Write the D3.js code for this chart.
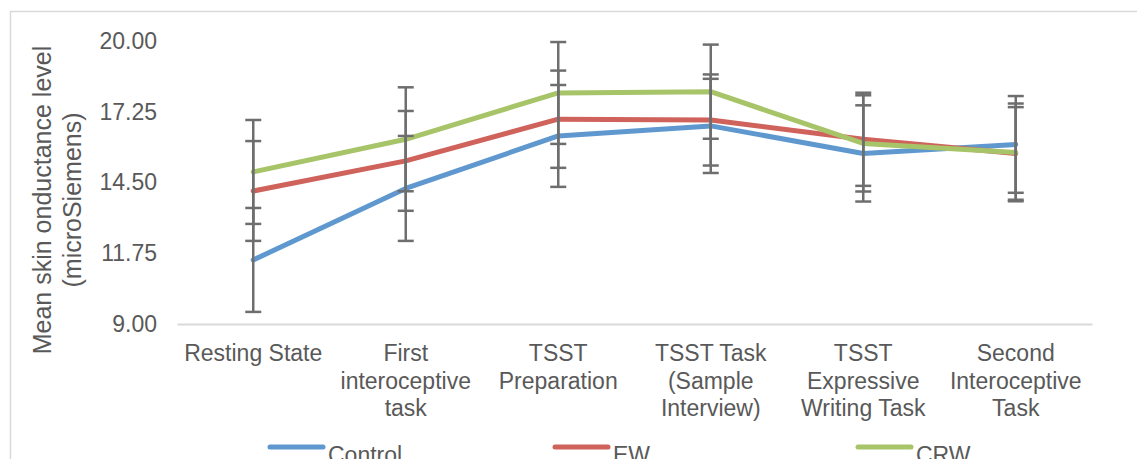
<!DOCTYPE html>
<html>
<head>
<meta charset="utf-8">
<script src="https://cdn.jsdelivr.net/npm/d3@7"></script>
<style>
  body { margin: 0; background: #fff; }
  svg { display: block; font-family: "Liberation Sans", Arial, Helvetica, sans-serif; }
</style>
</head>
<body>
<svg id="chart" width="1137" height="459"></svg>
<script>
var categories = [
    "Resting State",
    "First\ninteroceptive\ntask",
    "TSST\nPreparation",
    "TSST Task\n(Sample\nInterview)",
    "TSST\nExpressive\nWriting Task",
    "Second\nInteroceptive\nTask"
];
var seriesNames = ["Control", "EW", "CRW"];
var controlMeans = [11.49, 14.27, 16.31, 16.70, 15.63, 15.98];
var controlErrors = [2.02, 2.04, 1.98, 1.83, 1.87, 1.88];
var ewMeans = [14.17, 15.34, 16.96, 16.93, 16.18, 15.63];
var ewErrors = [1.94, 1.94, 1.89, 1.77, 1.81, 1.80];
var crwMeans = [14.91, 16.18, 17.98, 18.03, 16.02, 15.67];
var crwErrors = [2.02, 2.02, 1.98, 1.83, 1.87, 1.90];
var yTicks = [9, 11.75, 14.5, 17.25, 20];

var colors = ["#5f98cf", "#cf625b", "#a8c468"];
var textColor = "#595959";

var svg = d3.select("#chart");

// outer chart frame (runs off the right and bottom edge)
svg.append("rect")
    .attr("x", 10.5).attr("y", 11.5)
    .attr("width", 1300).attr("height", 600)
    .attr("fill", "none")
    .attr("stroke", "#d9d9d9")
    .attr("stroke-width", 1.5);

var plotLeft = 177, plotRight = 1092, plotTop = 41, plotBottom = 324;

var x = d3.scaleBand()
    .domain(categories)
    .range([plotLeft, plotRight]);

var y = d3.scaleLinear()
    .domain([9, 20])
    .range([plotBottom, plotTop]);

function cx(d, i) {
    return x(categories[i]) + x.bandwidth() / 2;
}

// y axis labels
var yAxis = svg.append("g")
    .attr("transform", "translate(157,0)")
    .call(d3.axisLeft(y).tickValues(yTicks).tickFormat(d3.format(".2f")).tickSize(0).tickPadding(0));
yAxis.select(".domain").remove();
yAxis.selectAll("text")
    .attr("fill", textColor)
    .style("font-size", "23px")
    .style("font-family", "'Liberation Sans', Arial, sans-serif");

// x axis baseline
var xAxis = svg.append("g")
    .attr("transform", "translate(0," + plotBottom + ")")
    .call(d3.axisBottom(x).tickSize(0).tickFormat(""));
xAxis.select(".domain").attr("stroke", "#d9d9d9").attr("stroke-width", 2);

// category labels, wrapped
var catLabels = svg.append("g").selectAll("text")
    .data(categories).enter().append("text")
    .attr("x", function (d) { return x(d) + x.bandwidth() / 2; })
    .attr("y", 361)
    .attr("text-anchor", "middle")
    .attr("fill", textColor)
    .style("font-size", "23px");
catLabels.each(function (d) {
    var t = d3.select(this);
    d.split("\n").forEach(function (line, i) {
        t.append("tspan")
            .attr("x", t.attr("x"))
            .attr("dy", i === 0 ? 0 : 27.5)
            .text(line);
    });
});

// y axis title
var title = svg.append("text")
    .attr("transform", "translate(51,200) rotate(-90)")
    .attr("text-anchor", "middle")
    .attr("fill", textColor)
    .style("font-size", "25px");
title.append("tspan").attr("x", 0).attr("dy", 0).text("Mean skin onductance level");
title.append("tspan").attr("x", 0).attr("dy", 30).text("(microSiemens)");

var series = [
    { name: seriesNames[0], means: controlMeans, errors: controlErrors, color: colors[0] },
    { name: seriesNames[1], means: ewMeans, errors: ewErrors, color: colors[1] },
    { name: seriesNames[2], means: crwMeans, errors: crwErrors, color: colors[2] }
];

var line = d3.line()
    .x(cx)
    .y(function (d) { return y(d); });

svg.append("g").selectAll("path")
    .data(series).enter().append("path")
    .attr("d", function (s) { return line(s.means); })
    .attr("fill", "none")
    .attr("stroke", function (s) { return s.color; })
    .attr("stroke-width", 5)
    .attr("stroke-linejoin", "round")
    .attr("stroke-linecap", "round");

// error bars
var errGroup = svg.append("g")
    .attr("stroke", "#6e6e6e")
    .attr("stroke-width", 2.5);
series.forEach(function (s) {
    s.means.forEach(function (m, i) {
        var px = cx(m, i);
        var hi = y(m + s.errors[i]), lo = y(m - s.errors[i]);
        errGroup.append("line").attr("x1", px).attr("x2", px).attr("y1", hi).attr("y2", lo);
        errGroup.append("line").attr("x1", px - 8).attr("x2", px + 8).attr("y1", hi).attr("y2", hi);
        errGroup.append("line").attr("x1", px - 8).attr("x2", px + 8).attr("y1", lo).attr("y2", lo);
    });
});

// legend
var legendX = [270, 555, 858];
var legend = svg.append("g").selectAll("g")
    .data(series).enter().append("g")
    .attr("transform", function (s, i) { return "translate(" + legendX[i] + ",447)"; });
legend.append("line")
    .attr("x1", 0).attr("x2", 53)
    .attr("stroke", function (s) { return s.color; })
    .attr("stroke-width", 5)
    .attr("stroke-linecap", "round");
legend.append("text")
    .attr("x", 58).attr("y", 16)
    .attr("fill", textColor)
    .style("font-size", "23px")
    .text(function (s) { return s.name; });
</script>
</body>
</html>
